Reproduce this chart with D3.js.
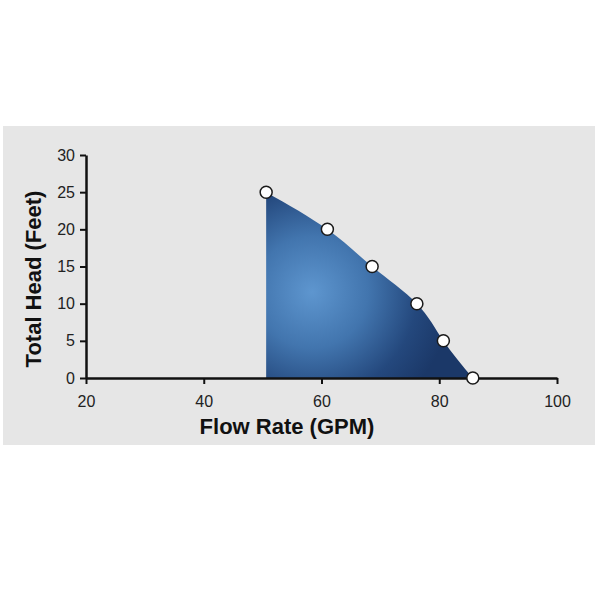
<!DOCTYPE html>
<html><head><meta charset="utf-8">
<script src="https://cdn.jsdelivr.net/npm/d3@7"></script>
<style>body{margin:0;background:#fff}svg{display:block}</style>
</head><body>
<svg id="c" width="600" height="600"></svg>
<script>
const flowRate = [50.6, 61.0, 68.6, 76.2, 80.7, 85.7];
const totalHead = [25, 20, 15, 10, 5, 0];
const xTicks = [20, 40, 60, 80, 100];
const yTicks = [0, 5, 10, 15, 20, 25, 30];
const xTitle = "Flow Rate (GPM)";
const yTitle = "Total Head (Feet)";

const svg = d3.select("#c");
svg.append("rect").attr("x",3).attr("y",126).attr("width",592).attr("height",319).attr("fill","#e6e6e6");

const x = d3.scaleLinear().domain([20,100]).range([86,557]);
const y = d3.scaleLinear().domain([0,30]).range([378,155]);

const defs = svg.append("defs");
const g = defs.append("radialGradient").attr("id","grad").attr("gradientUnits","userSpaceOnUse")
  .attr("cx",312).attr("cy",292).attr("r",140);
g.append("stop").attr("offset","0%").attr("stop-color","#5e96cf");
g.append("stop").attr("offset","40%").attr("stop-color","#4275ae");
g.append("stop").attr("offset","75%").attr("stop-color","#24487d");
g.append("stop").attr("offset","100%").attr("stop-color","#1b3868");

const pts = flowRate.map((f,i)=>[f,totalHead[i]]);
const area = d3.area().x(d=>x(d[0])).y0(y(0)).y1(d=>y(d[1])).curve(d3.curveNatural);
svg.append("path").attr("d",area(pts)).attr("fill","url(#grad)");

const xa = svg.append("g").attr("transform",`translate(0,${y(0)})`)
  .call(d3.axisBottom(x).tickValues(xTicks).tickSize(6).tickSizeOuter(0).tickPadding(12));
const ya = svg.append("g").attr("transform",`translate(${x(20)},0)`)
  .call(d3.axisLeft(y).tickValues(yTicks).tickSize(6).tickSizeOuter(0).tickPadding(5));
[xa,ya].forEach(a=>{
  a.selectAll("path").attr("stroke","#111").attr("stroke-width",2.5);
  a.selectAll("line").attr("stroke","#111").attr("stroke-width",2);
  a.selectAll("text").attr("font-family","Liberation Sans, Arial, sans-serif").attr("font-size",16).attr("fill","#222");
});

svg.selectAll("circle.p").data(pts).join("circle").attr("class","p")
  .attr("cx",d=>x(d[0])).attr("cy",d=>y(d[1])).attr("r",6)
  .attr("fill","#fff").attr("stroke","#1a1a1a").attr("stroke-width",1.5);

svg.append("text").attr("x",287).attr("y",434).attr("text-anchor","middle")
  .attr("font-family","Liberation Sans, Arial, sans-serif").attr("font-weight","bold").attr("font-size",22).attr("fill","#111").text(xTitle);
svg.append("text").attr("transform","translate(41,279) rotate(-90)").attr("text-anchor","middle")
  .attr("font-family","Liberation Sans, Arial, sans-serif").attr("font-weight","bold").attr("font-size",22).attr("fill","#111").text(yTitle);
</script>
</body></html>
